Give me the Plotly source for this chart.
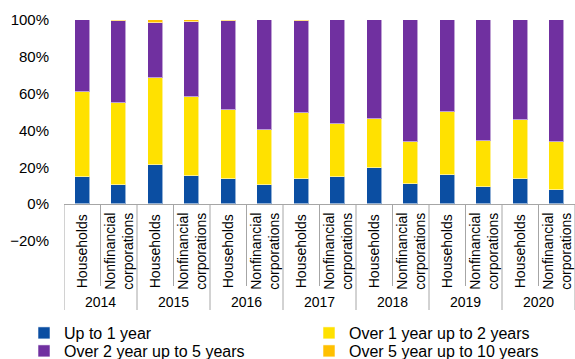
import plotly.graph_objects as go

years = ["2014", "2015", "2016", "2017", "2018", "2019", "2020"]
sectors = ["Households", "Nonfinancial<br>corporations"]

series_names = ["Up to 1 year", "Over 1 year up to 2 years",
                "Over 2 year up to 5 years", "Over 5 year up to 10 years"]

# shares in %, order: 2014 HH, 2014 NFC, 2015 HH, 2015 NFC, ...
up_to_1 = [14.8, 10.3, 21.2, 15.4, 13.8, 10.3, 13.4, 14.5, 19.9, 10.7, 15.8, 9.4, 13.4, 7.6]
y1_to_2 = [45.9, 44.7, 47.1, 42.9, 37.3, 29.9, 35.9, 28.8, 26.5, 23.2, 34.4, 24.8, 32.3, 25.9]
y2_to_5 = [39.1, 44.4, 30.2, 40.8, 48.5, 59.7, 50.3, 56.6, 53.5, 66.0, 49.7, 65.7, 54.2, 66.4]
y5_to_10 = [0.2, 0.6, 1.5, 0.9, 0.4, 0.1, 0.4, 0.1, 0.1, 0.1, 0.1, 0.1, 0.1, 0.1]

colors = ["#0B4EA2", "#FFE100", "#7030A0", "#FFC000"]

W, H = 575, 359
TOP, BOTTOM = 20, 118
PLOT_H = H - TOP - BOTTOM


def py(pix):
    # pixel row -> paper coordinate
    return (H - BOTTOM - pix) / PLOT_H


xpos = list(range(len(years) * len(sectors)))

# legend slots (2 columns x 2 rows): left edge, row centre in pixels
legend_slots = [(24, 333), (309, 333), (24, 351), (309, 351)]
legend_ids = ["legend", "legend2", "legend3", "legend4"]

fig = go.Figure()
for name, vals, col, lid in zip(series_names, [up_to_1, y1_to_2, y2_to_5, y5_to_10], colors, legend_ids):
    fig.add_trace(go.Bar(
        x=xpos, y=vals, name=name, width=0.41, legend=lid,
        marker=dict(color=col, line=dict(color="rgba(255,255,255,0.55)", width=1)),
    ))

# category labels and dividers
for i, x in enumerate(xpos):
    fig.add_annotation(x=x, y=py(251), xref="x", yref="paper", yanchor="middle",
                       text=sectors[i % 2], textangle=-90, showarrow=False,
                       font=dict(size=14, color="#000000"))
for j, yr in enumerate(years):
    fig.add_annotation(x=2 * j + 0.5, y=py(302), xref="x", yref="paper", yanchor="middle",
                       text=yr, showarrow=False, font=dict(size=14, color="#000000"))

for k in range(len(xpos) + 1):
    b = k - 0.5
    bottom = 310 if k % 2 == 0 else 286
    fig.add_shape(type="line", xref="x", yref="paper", x0=b, x1=b,
                  y0=py(204), y1=py(bottom), line=dict(color="#A6A6A6", width=1))

legends = {}
for lid, (lx, ly) in zip(legend_ids, legend_slots):
    legends[lid] = dict(
        xref="container", yref="container", x=lx / W, y=1 - ly / H,
        xanchor="left", yanchor="middle", font=dict(size=16),
        bgcolor="rgba(0,0,0,0)", itemwidth=30,
    )

fig.update_layout(
    barmode="stack",
    width=W, height=H,
    margin=dict(l=64, r=0, t=TOP, b=BOTTOM, autoexpand=False),
    plot_bgcolor="white", paper_bgcolor="white",
    font=dict(family="Liberation Sans, Arial, sans-serif", color="#000000"),
    showlegend=True,
    bargap=0,
    **legends,
)
fig.update_xaxes(range=[-0.5, 13.5], showticklabels=False, showgrid=False,
                 zeroline=False, showline=False, ticks="")
fig.update_yaxes(range=[-20, 100], dtick=20, ticksuffix="%", showgrid=False,
                 zeroline=True, zerolinecolor="#A6A6A6", zerolinewidth=1,
                 showline=False, ticks="", ticklabelstandoff=14,
                 tickfont=dict(size=15, color="#000000"))

fig.write_html("out.html", config={"displayModeBar": False},
               post_script="document.body.style.margin='0';")
